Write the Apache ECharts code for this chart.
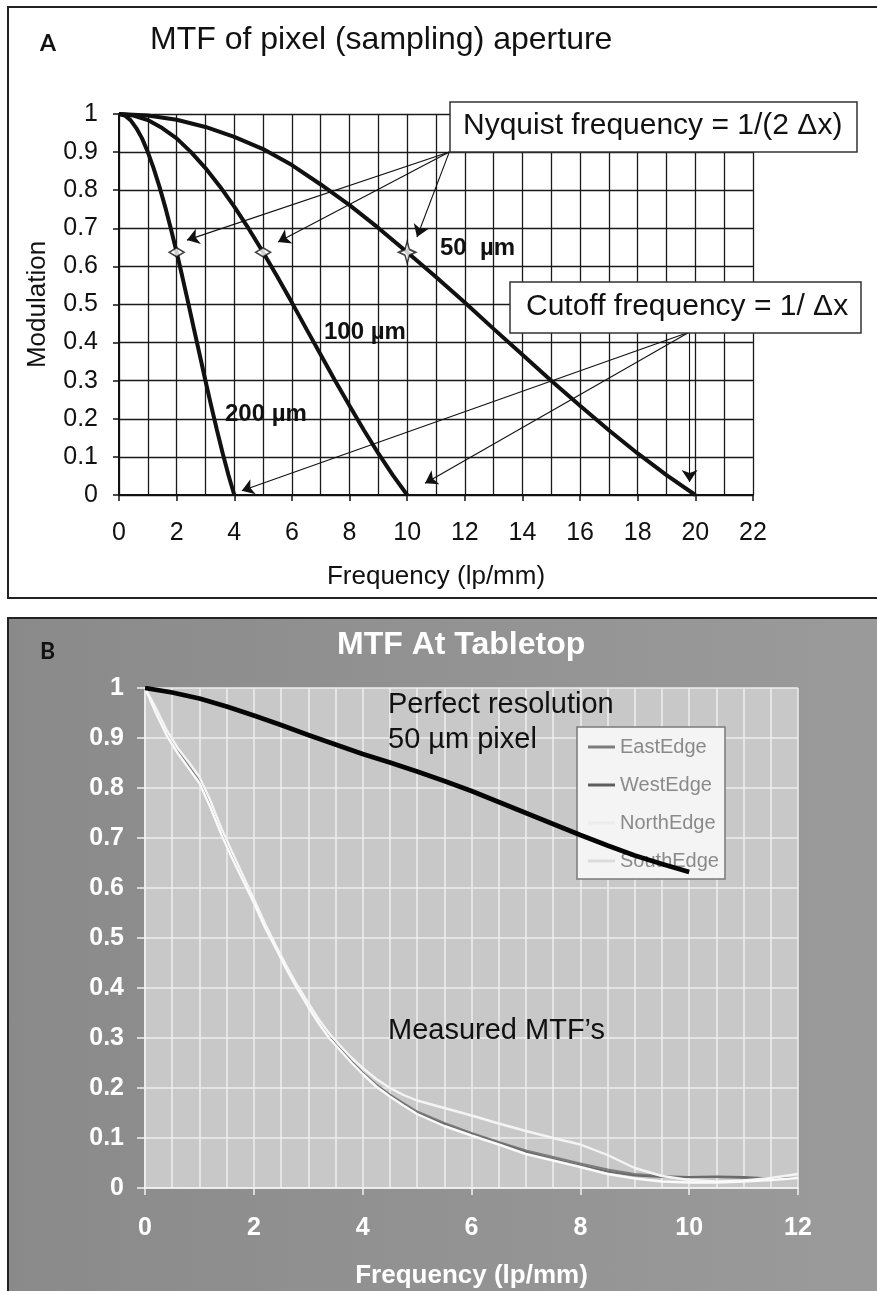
<!DOCTYPE html>
<html>
<head>
<meta charset="utf-8">
<script src="https://cdn.jsdelivr.net/npm/echarts@6/dist/echarts.min.js"></script>
<style>
html,body{margin:0;padding:0;background:#fff;overflow:hidden;}
#wrap{position:relative;width:877px;height:1291px;}
#panelA{position:absolute;left:7px;top:6px;width:890px;height:589px;border:2.5px solid #222;background:#fff;}
#panelB{position:absolute;left:7px;top:617px;width:890px;height:700px;border:2.5px solid #222;background:linear-gradient(to right,#8a8a8a,#9b9b9b);}
#chart{position:absolute;left:0;top:0;width:877px;height:1291px;}
</style>
</head>
<body>
<div id="wrap"><div id="panelA"></div><div id="panelB"></div><div id="chart"></div></div>
<script>
// ---------- Panel A data ----------
const freq50  = [0,1,2,3,4,5,6,7,8,9,10,11,12,13,14,15,16,17,18,19,20];
const mod50   = [1,0.996,0.985,0.966,0.940,0.908,0.866,0.815,0.761,0.701,0.637,0.572,0.505,0.436,0.368,0.300,0.234,0.170,0.109,0.052,0];
const freq100 = [0,0.5,1,1.5,2,2.5,3,3.5,4,4.5,5,5.5,6,6.5,7,7.5,8,8.5,9,9.5,10];
const mod100  = [1,0.996,0.984,0.963,0.936,0.900,0.858,0.810,0.757,0.699,0.637,0.572,0.505,0.436,0.368,0.300,0.234,0.170,0.109,0.052,0];
const freq200 = [0,0.2,0.4,0.6,0.8,1,1.2,1.4,1.6,1.8,2,2.2,2.4,2.6,2.8,3,3.2,3.4,3.6,3.8,4];
const mod200  = [1,0.996,0.984,0.963,0.936,0.900,0.858,0.810,0.757,0.699,0.637,0.572,0.505,0.436,0.368,0.300,0.234,0.170,0.109,0.052,0];
const nyquistFreq = [2,5,10];
const nyquistMod  = [0.637,0.637,0.637];
const nyquistArrowFrom = [11.46,0.90];
const nyquistArrowTo   = [[2.36,0.669],[5.52,0.664],[10.34,0.677]];
const cutoffArrowFrom  = [19.8,0.428];
const cutoffArrowTo    = [[4.26,0.011],[10.62,0.031],[19.8,0.034]];
const xTicksA = [0,2,4,6,8,10,12,14,16,18,20,22];

// ---------- Panel B data ----------
const freqPerfect = [0,0.5,1,1.5,2,2.5,3,3.5,4,4.5,5,5.5,6,6.5,7,7.5,8,8.5,9,9.5,10];
const modPerfect  = [1,0.991,0.979,0.963,0.945,0.926,0.906,0.887,0.868,0.851,0.833,0.814,0.794,0.772,0.750,0.728,0.706,0.685,0.665,0.648,0.632];
const freqMeas = [0,0.2,0.4,0.6,0.8,1,1.2,1.4,1.6,1.8,2,2.2,2.4,2.6,2.8,3,3.2,3.4,3.6,3.8,4,4.25,4.5,4.75,5,5.5,6,6.5,7,7.5,8,8.5,9,9.5,10,10.5,11,11.5,12];
const eastEdge  = [1,0.955,0.910,0.875,0.845,0.815,0.768,0.714,0.665,0.620,0.574,0.526,0.483,0.440,0.401,0.365,0.331,0.301,0.277,0.253,0.231,0.207,0.187,0.170,0.153,0.130,0.110,0.092,0.075,0.062,0.049,0.037,0.028,0.024,0.022,0.022,0.020,0.018,0.020];
const westEdge  = [1,0.952,0.906,0.872,0.842,0.812,0.765,0.711,0.662,0.617,0.571,0.524,0.481,0.438,0.399,0.363,0.329,0.299,0.275,0.251,0.229,0.205,0.185,0.167,0.150,0.127,0.108,0.090,0.072,0.058,0.045,0.033,0.025,0.022,0.022,0.023,0.022,0.019,0.020];
const northEdge = [1,0.960,0.915,0.880,0.852,0.822,0.775,0.720,0.672,0.625,0.578,0.530,0.486,0.444,0.405,0.370,0.336,0.307,0.283,0.260,0.240,0.218,0.200,0.186,0.175,0.160,0.145,0.129,0.114,0.100,0.087,0.066,0.040,0.024,0.016,0.013,0.015,0.020,0.028];
const southEdge = [1,0.950,0.905,0.870,0.840,0.810,0.762,0.708,0.660,0.615,0.570,0.522,0.480,0.437,0.398,0.362,0.328,0.298,0.274,0.250,0.228,0.203,0.183,0.165,0.148,0.124,0.105,0.087,0.068,0.055,0.042,0.028,0.019,0.013,0.011,0.011,0.013,0.016,0.020];
const edgeNames = ['EastEdge','WestEdge','NorthEdge','SouthEdge'];

const FONT = '"Liberation Sans", Arial, sans-serif';
const zip = (xs, ys) => xs.map((x, i) => [x, ys[i]]);

const chart = echarts.init(document.getElementById('chart'), null, {renderer: 'canvas'});

const arrowLines = [];
nyquistArrowTo.forEach(t => arrowLines.push([{coord: nyquistArrowFrom}, {coord: t}]));
cutoffArrowTo.forEach(t => arrowLines.push([{coord: cutoffArrowFrom}, {coord: t}]));

const starPath = 'path://M0,-10 L2.6,-2.6 L10,0 L2.6,2.6 L0,10 L-2.6,2.6 L-10,0 L-2.6,-2.6 Z';
const markerShapes = ['diamond','diamond', starPath];
const markerSizes = [[15,9],[15,9],[17,22]];

const curveA = {type:'line', xAxisIndex:0, yAxisIndex:0, symbol:'none', showSymbol:false,
  lineStyle:{color:'#111', width:4}, z:3, silent:true};

const gridLineA = {color:'#1a1a1a', width:1.3};
const gridLineB = {color:'#eeeeee', width:1.5};

const option = {
  backgroundColor: 'transparent',
  animation: false,
  textStyle: {fontFamily: FONT},
  grid: [
    {left:119, top:114, width:634, height:381, containLabel:false, outerBoundsMode:'none', show:false},
    {left:145, top:688, width:653, height:500, containLabel:false, outerBoundsMode:'none', show:true,
     backgroundColor:'#c8c8c8', borderWidth:0}
  ],
  xAxis: [
    {type:'value', gridIndex:0, min:0, max:22, interval:2,
     name:'Frequency (lp/mm)', nameLocation:'middle', nameGap:69,
     nameTextStyle:{fontSize:26, color:'#111', fontFamily:FONT},
     axisLine:{show:true, onZero:false, lineStyle:{color:'#111', width:2}},
     axisTick:{show:true, length:6, lineStyle:{color:'#111', width:1.5}},
     axisLabel:{show:true, margin:26, fontSize:25, color:'#111', fontFamily:FONT,
       showMinLabel:true, showMaxLabel:true,
       formatter: v => (xTicksA.indexOf(v) >= 0 ? String(v) : '')},
     splitLine:{show:true, lineStyle:gridLineA},
     minorTick:{show:false, splitNumber:2},
     minorSplitLine:{show:true, lineStyle:gridLineA}},
    {type:'value', gridIndex:1, min:0, max:12, interval:2,
     name:'Frequency (lp/mm)', nameLocation:'middle', nameGap:75,
     nameTextStyle:{fontSize:26, fontWeight:'bold', color:'#fff', fontFamily:FONT},
     axisLine:{show:true, onZero:false, lineStyle:{color:'#f2f2f2', width:1.5}},
     axisTick:{show:true, length:7, lineStyle:{color:'#f2f2f2', width:1.5}},
     axisLabel:{show:true, margin:28, fontSize:25, fontWeight:'bold', color:'#fff', fontFamily:FONT,
       showMinLabel:true, showMaxLabel:true},
     splitLine:{show:true, lineStyle:gridLineB},
     minorTick:{show:false, splitNumber:4},
     minorSplitLine:{show:true, lineStyle:gridLineB}}
  ],
  yAxis: [
    {type:'value', gridIndex:0, min:0, max:1, interval:0.1,
     name:'Modulation', nameLocation:'middle', nameGap:68, nameRotate:90,
     nameTextStyle:{fontSize:26, color:'#111', fontFamily:FONT},
     axisLine:{show:true, onZero:false, lineStyle:{color:'#111', width:2}},
     axisTick:{show:true, length:6, lineStyle:{color:'#111', width:1.5}},
     axisLabel:{show:true, margin:21, fontSize:25, color:'#111', fontFamily:FONT,
       showMinLabel:true, showMaxLabel:true},
     splitLine:{show:true, lineStyle:gridLineA}},
    {type:'value', gridIndex:1, min:0, max:1, interval:0.1,
     axisLine:{show:true, onZero:false, lineStyle:{color:'#f2f2f2', width:1.5}},
     axisTick:{show:true, length:8, lineStyle:{color:'#f2f2f2', width:1.5}},
     axisLabel:{show:true, margin:21, fontSize:25, fontWeight:'bold', color:'#fff', fontFamily:FONT,
       showMinLabel:true, showMaxLabel:true},
     splitLine:{show:true, lineStyle:gridLineB}}
  ],
  legend: {
    data: edgeNames, orient:'vertical', left:577, top:727,
    padding:[10,6,8,11], itemWidth:27, itemHeight:3, icon:'rect', itemGap:18,
    textStyle:{color:'#8a8a8a', fontSize:20, fontFamily:FONT},
    backgroundColor:'#f4f4f4', borderColor:'#7a7a7a', borderWidth:1.5,
    selectedMode:false, z:4
  },
  series: [
    Object.assign({}, curveA, {name:'50 µm', data: zip(freq50, mod50)}),
    Object.assign({}, curveA, {name:'100 µm', data: zip(freq100, mod100)}),
    Object.assign({}, curveA, {name:'200 µm', data: zip(freq200, mod200),
      markLine:{silent:true, symbol:['none','arrow'], symbolSize:12, precision:3,
        label:{show:false}, emphasis:{disabled:true},
        lineStyle:{color:'#111', width:1.1, type:'solid'},
        itemStyle:{color:'#111'},
        data: arrowLines}}),
    {type:'scatter', name:'Nyquist', xAxisIndex:0, yAxisIndex:0, z:5, silent:true,
     itemStyle:{color:'#fff', borderColor:'#111', borderWidth:1.6},
     data: nyquistFreq.map((f, i) => ({value:[f, nyquistMod[i]], symbol: markerShapes[i], symbolSize: markerSizes[i]}))},
    {type:'line', name:'EastEdge', xAxisIndex:1, yAxisIndex:1, symbol:'none', showSymbol:false, silent:true,
     color:'#7c7c7c', lineStyle:{color:'#7c7c7c', width:2}, data: zip(freqMeas, eastEdge)},
    {type:'line', name:'WestEdge', xAxisIndex:1, yAxisIndex:1, symbol:'none', showSymbol:false, silent:true,
     color:'#5e5e5e', lineStyle:{color:'#6a6a6a', width:2}, data: zip(freqMeas, westEdge)},
    {type:'line', name:'NorthEdge', xAxisIndex:1, yAxisIndex:1, symbol:'none', showSymbol:false, silent:true,
     color:'#ececec', lineStyle:{color:'#f4f4f4', width:2.4}, data: zip(freqMeas, northEdge)},
    {type:'line', name:'SouthEdge', xAxisIndex:1, yAxisIndex:1, symbol:'none', showSymbol:false, silent:true,
     color:'#dcdcdc', lineStyle:{color:'#fafafa', width:2.4}, data: zip(freqMeas, southEdge)},
    {type:'line', name:'Perfect', xAxisIndex:1, yAxisIndex:1, symbol:'none', showSymbol:false, silent:true,
     z:6, lineStyle:{color:'#050505', width:4.6}, data: zip(freqPerfect, modPerfect)}
  ],
  graphic: [
    {type:'text', left:40, top:32, z:100, style:{text:'A', font:'bold 23px "Lato", ' + FONT, fill:'#111'}},
    {type:'text', left:150, top:24, z:100, style:{text:'MTF of pixel (sampling) aperture', font:'32px ' + FONT, fill:'#111'}},
    {type:'rect', shape:{x:450, y:102, width:407, height:50}, z:100, style:{fill:'#fff', stroke:'#333', lineWidth:1.5}},
    {type:'text', left:463, top:111, z:101, style:{text:'Nyquist frequency = 1/(2 Δx)', font:'30px ' + FONT, fill:'#111'}},
    {type:'rect', shape:{x:510, y:282, width:351, height:51}, z:100, style:{fill:'#fff', stroke:'#333', lineWidth:1.5}},
    {type:'text', left:526, top:292, z:101, style:{text:'Cutoff frequency = 1/ Δx', font:'30px ' + FONT, fill:'#111'}},
    {type:'text', left:440, top:236, z:100, style:{text:'50  µm', font:'bold 24px ' + FONT, fill:'#111'}},
    {type:'text', left:324, top:320, z:100, style:{text:'100 µm', font:'bold 24px ' + FONT, fill:'#111'}},
    {type:'text', left:225, top:402, z:100, style:{text:'200 µm', font:'bold 24px ' + FONT, fill:'#111'}},
    {type:'text', left:40, top:640, z:100, style:{text:'B', font:'bold 23px "Lato", ' + FONT, fill:'#111'}},
    {type:'text', left:337, top:629, z:100, style:{text:'MTF At Tabletop', font:'bold 32px ' + FONT, fill:'#fff'}},
    {type:'text', left:388, top:690, z:100, style:{text:'Perfect resolution', font:'29px ' + FONT, fill:'#111'}},
    {type:'text', left:388, top:725, z:100, style:{text:'50 µm pixel', font:'29px ' + FONT, fill:'#111'}},
    {type:'text', left:388, top:1016, z:100, style:{text:'Measured MTF’s', font:'29px ' + FONT, fill:'#111'}}
  ]
};
chart.setOption(option);
</script>
</body>
</html>
